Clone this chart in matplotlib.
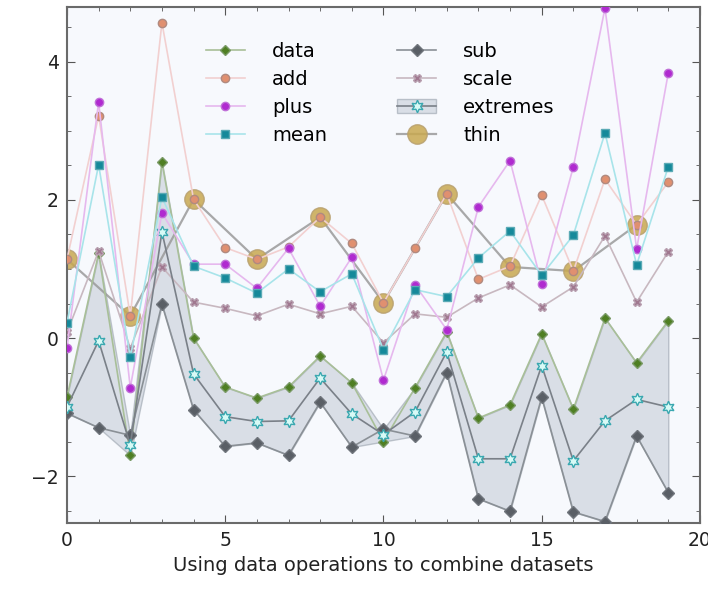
import numpy as np
import matplotlib.pyplot as plt
from matplotlib.ticker import MultipleLocator

plt.rcParams['font.family'] = ['DejaVu Sans']

x = np.arange(20)

# series values
data = [-0.86, 1.23, -1.70, 2.55, 0.00, -0.71, -0.87, -0.71, -0.26, -0.65,
        -1.50, -0.72, 0.09, -1.16, -0.97, 0.06, -1.03, 0.29, -0.36, 0.25]
add = [1.14, 3.22, 0.32, 4.57, 2.01, 1.31, 1.14, 1.32, 1.75, 1.37,
       0.51, 1.30, 2.09, 0.85, 1.04, 2.07, 0.97, 2.30, 1.64, 2.26]
plus = [-0.14, 3.42, -0.72, 1.81, 1.07, 1.07, 0.72, 1.30, 0.46, 1.17,
        -0.61, 0.77, 0.12, 1.90, 2.57, 0.78, 2.48, 4.78, 1.29, 3.84]
mean = [0.22, 2.51, -0.28, 2.04, 1.04, 0.87, 0.65, 1.00, 0.67, 0.93,
        -0.17, 0.70, 0.60, 1.16, 1.55, 0.91, 1.49, 2.97, 1.06, 2.48]
sub = [-1.09, -1.30, -1.41, 0.49, -1.04, -1.57, -1.52, -1.70, -0.93, -1.58,
       -1.32, -1.42, -0.50, -2.33, -2.51, -0.86, -2.52, -2.66, -1.42, -2.24]
scale = [0.08, 1.26, -0.15, 1.03, 0.52, 0.43, 0.32, 0.49, 0.35, 0.46,
         -0.07, 0.35, 0.30, 0.58, 0.77, 0.45, 0.74, 1.48, 0.52, 1.25]
extremes = [-1.00, -0.04, -1.55, 1.54, -0.52, -1.14, -1.21, -1.20, -0.58, -1.10,
            -1.40, -1.07, -0.20, -1.75, -1.75, -0.40, -1.78, -1.20, -0.89, -1.00]
thin_x = x[::2]
thin = [1.14, 0.32, 2.01, 1.14, 1.75, 0.51, 2.09, 1.03, 0.97, 1.64]

fig = plt.figure(figsize=(7.08, 5.9), dpi=100)
ax = fig.add_axes([0.0946, 0.1136, 0.894, 0.875])
ax.set_facecolor('#f7f9fd')

band = ax.fill_between(x, np.minimum(data, sub), np.maximum(data, sub),
                       color='#c5ccd8', alpha=0.6, edgecolor='#9aa3ad', lw=1.0, zorder=1)

ms = 6
l_data, = ax.plot(x, data, '-D', color='#a8bf98', lw=1.2, ms=5, mfc='#4f7f23', mec='#7a9a66', zorder=3, label='data')
l_add, = ax.plot(x, add, '-o', color='#f2d0d0', lw=1.2, ms=ms, mfc='#e09070', mec='#b08a80', zorder=4, label='add')
l_plus, = ax.plot(x, plus, '-o', color='#e6b8ee', lw=1.2, ms=ms, mfc='#b02ad0', mec='#c070d8', zorder=4, label='plus')
l_mean, = ax.plot(x, mean, '-s', color='#a8e4ea', lw=1.2, ms=ms, mfc='#15899a', mec='#5aaab5', zorder=4, label='mean')
l_sub, = ax.plot(x, sub, '-D', color='#8a9096', lw=1.2, ms=6, mfc='#5a5f66', mec='#70757c', zorder=3, label='sub')
l_scale, = ax.plot(x, scale, '-X', color='#c8b8c0', lw=1.2, ms=6, mfc='#a07890', mec='#b8a0b0', zorder=3, label='scale')
l_ext, = ax.plot(x, extremes, '-', marker=(6, 1, 0), color='#7a8088', lw=1.2, ms=9,
                 mfc='#d8faf6', mec='#3aa8b0', zorder=3, label='extremes')
l_thin, = ax.plot(thin_x, thin, '-o', color='#9a9a9a', lw=1.6, ms=14, mfc='#c8a850',
                  mec='#b8a070', alpha=0.85, zorder=2, label='thin')

ax.set_xlim(0, 20)
ax.set_ylim(-2.68, 4.8)
ax.xaxis.set_major_locator(MultipleLocator(5))
ax.xaxis.set_minor_locator(MultipleLocator(1))
ax.yaxis.set_major_locator(MultipleLocator(2))
ax.yaxis.set_minor_locator(MultipleLocator(0.5))
ax.tick_params(which='both', direction='in', top=True, right=True, colors='#555555',
               labelcolor='#222222', labelsize=13.5)
ax.tick_params(which='major', length=6, pad=6)
ax.tick_params(which='minor', length=3)
for s in ax.spines.values():
    s.set_color('#6a6a6a')
    s.set_linewidth(1.5)

ax.set_xlabel('Using data operations to combine datasets', fontsize=14, color='#222222', labelpad=4)

handles = [l_data, l_add, l_plus, l_mean, l_sub, l_scale, (band, l_ext), l_thin]
labels = ['data', 'add', 'plus', 'mean', 'sub', 'scale', 'extremes', 'thin']
ax.legend(handles, labels, ncol=2, frameon=False, loc='upper left',
          bbox_to_anchor=(0.192, 0.965), fontsize=14, handlelength=2.0,
          columnspacing=3.6, labelspacing=0.45, handletextpad=1.4)

fig.savefig('out.png', dpi=100)
